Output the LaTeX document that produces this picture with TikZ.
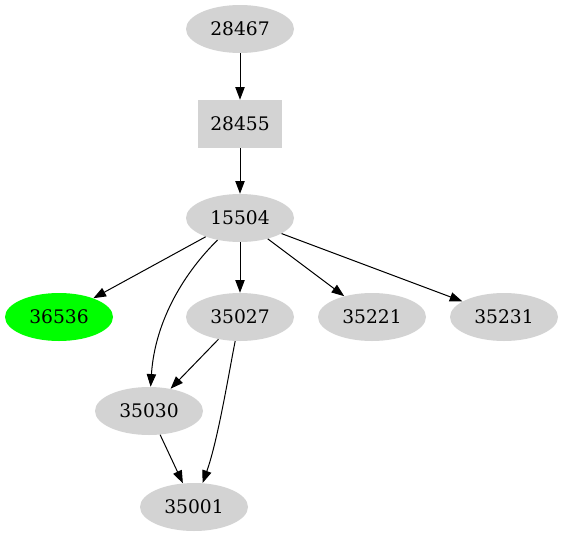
\documentclass[tikz,border=0pt]{standalone}
\usepackage{fontspec}
\setmainfont{DejaVu Serif}
\usetikzlibrary{shapes.geometric,arrows.meta}
\definecolor{lgray}{HTML}{D3D3D3}
\definecolor{lgreen}{HTML}{00FF00}
\begin{document}
\begin{tikzpicture}[x=0.75pt,y=-0.75pt,
  every node/.style={font=\fontsize{14pt}{16pt}\selectfont, inner sep=0pt},
  ell/.style={ellipse, fill=lgray, minimum width=81pt, minimum height=36pt},
  boxn/.style={rectangle, fill=lgray, minimum width=63pt, minimum height=36pt},
  edge/.style={draw=black, line width=0.75pt, -{Triangle[length=9.5pt,width=7pt]}}]
\useasboundingbox (0,0) rectangle (563,539);
\node[ell] (n28467) at (240,29) {28467};
\node[boxn] (n28455) at (240,124) {28455};
\node[ell] (n15504) at (240,218) {15504};
\node[ell, fill=lgreen] (n36536) at (59,317) {36536};
\node[ell] (n35027) at (240,317) {35027};
\node[ell] (n35221) at (372,317) {35221};
\node[ell] (n35231) at (504,317) {35231};
\node[ell] (n35030) at (149,411) {35030};
\node[ell] (n35001) at (194,507) {35001};
\draw[edge] (n28467) -- (n28455);
\draw[edge] (n28455) -- (n15504);
\draw[edge] (n15504) -- (n36536);
\draw[edge] (n15504) -- (n35027);
\draw[edge] (n15504) -- (n35221);
\draw[edge] (n15504) -- (n35231);
\draw[edge] (n15504) .. controls (185,272) and (155,320) .. (n35030);
\draw[edge] (n35027) -- (n35030);
\draw[edge] (n35027) .. controls (229,372) and (218,440) .. (n35001);
\draw[edge] (n35030) -- (n35001);
\end{tikzpicture}
\end{document}
